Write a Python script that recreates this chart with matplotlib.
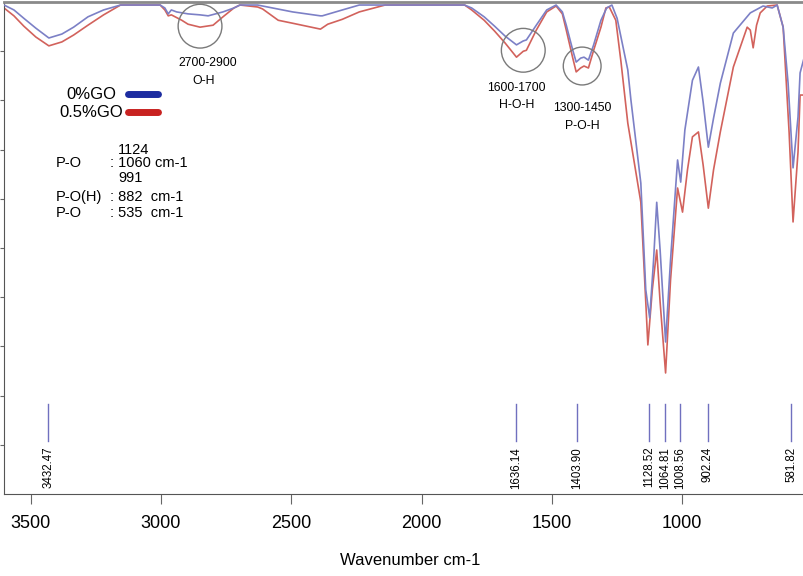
import matplotlib
matplotlib.use("Agg")
import matplotlib.pyplot as plt
from matplotlib.patches import Ellipse

plt.rcParams['font.family'] = ['Liberation Sans', 'DejaVu Sans']

# FTIR spectrum, 0% GO (blue)
wn_0 = [3602, 3564, 3526, 3480, 3430, 3380, 3335, 3280, 3220, 3155, 3003, 2985, 2972, 2960,
        2940, 2896, 2850, 2819, 2762, 2720, 2697, 2629, 2610, 2495, 2388, 2381, 2304, 2239,
        1835, 1808, 1760, 1720, 1680, 1636, 1610, 1598, 1560, 1520, 1484, 1460, 1445, 1420,
        1407, 1390, 1377, 1360, 1340, 1312, 1290, 1270, 1250, 1209, 1197, 1159, 1140, 1125,
        1110, 1098, 1085, 1064, 1045, 1018, 1006, 990, 961, 938, 920, 900, 880, 854, 804,
        739, 690, 655, 636, 613, 594, 575, 556, 548, 533]
t_0 = [99.4, 98.4, 96.7, 94.7, 92.7, 93.5, 94.9, 97.0, 98.4, 99.4, 99.4, 98.8, 97.6, 98.4,
       98.0, 97.6, 97.4, 97.2, 98.0, 98.8, 99.4, 99.4, 99.2, 98.0, 97.2, 97.2, 98.4, 99.4,
       99.4, 98.8, 97.0, 95.1, 93.1, 91.3, 92.1, 92.3, 95.3, 98.4, 99.4, 98.0, 95.3, 90.2,
       87.8, 88.6, 88.8, 88.2, 91.3, 96.3, 98.8, 99.4, 96.7, 86.2, 80.1, 63.2, 41.5, 35.8,
       47.6, 59.3, 49.6, 30.9, 47.6, 67.9, 63.4, 74.0, 84.1, 86.8, 79.7, 70.5, 76.4, 83.5, 93.7,
       97.8, 99.2, 98.8, 99.4, 94.9, 83.5, 66.3, 76.6, 85.6, 88.6]

# FTIR spectrum, 0.5% GO (red)
wn_05 = [3602, 3564, 3526, 3480, 3430, 3380, 3335, 3280, 3220, 3155, 3003, 2985, 2972, 2960,
         2920, 2896, 2850, 2800, 2762, 2720, 2697, 2629, 2610, 2550, 2495, 2388, 2360, 2304,
         2239, 2140, 1835, 1808, 1760, 1720, 1680, 1636, 1610, 1598, 1560, 1520, 1484, 1460,
         1445, 1420, 1407, 1390, 1377, 1360, 1340, 1312, 1293, 1280, 1255, 1235, 1209, 1159,
         1140, 1132, 1115, 1098, 1085, 1064, 1045, 1018, 999, 980, 961, 938, 920, 900, 880,
         854, 804, 751, 739, 728, 715, 701, 674, 636, 613, 590, 575, 556, 548, 533]
t_05 = [98.8, 97.2, 95.1, 92.9, 91.1, 91.9, 93.3, 95.3, 97.4, 99.4, 99.4, 98.4, 97.2, 97.4,
        96.3, 95.5, 94.9, 95.3, 97.0, 98.8, 99.4, 99.0, 98.6, 96.3, 95.7, 94.5, 95.5, 96.5,
        98.0, 99.4, 99.4, 98.4, 96.3, 94.1, 91.7, 88.8, 90.0, 90.2, 94.3, 98.0, 99.2, 97.6,
        94.3, 88.6, 85.8, 86.6, 87.0, 86.6, 90.2, 94.9, 98.8, 99.0, 96.3, 87.8, 75.4, 59.3,
        39.0, 30.3, 41.5, 49.6, 39.0, 24.6, 43.5, 62.2, 57.3, 65.9, 72.6, 73.6, 66.9, 58.1, 65.9,
        73.6, 86.8, 94.9, 94.3, 90.7, 95.3, 97.8, 99.2, 99.4, 94.9, 73.4, 55.3, 69.5, 81.1, 81.1]

peak_wn = [3432.47, 1636.14, 1403.90, 1128.52, 1064.81, 1008.56, 902.24, 581.82]
peak_labels = ['3432.47', '1636.14', '1403.90', '1128.52', '1064.81', '1008.56', '902.24', '581.82']

fig = plt.figure(figsize=(8.04, 5.76), dpi=100)
ax = fig.add_axes([0.005, 0.1424, 0.995, 0.854])

ax.plot(wn_0, t_0, color='#7c80c6', lw=1.2, zorder=3)
ax.plot(wn_05, t_05, color='#d2625c', lw=1.2, zorder=2)

# peak marker sticks + labels
for w, lab in zip(peak_wn, peak_labels):
    ax.plot([w, w], [10.8, 18.3], color='#7070bf', lw=1.0)
    ax.text(w, 9.6, lab, rotation=90, ha='center', va='top', fontsize=8.3)

# circled regions
for cx, cy, rw, rh in [(2850, 95.1, 168, 8.9), (1610, 90.2, 168, 8.9), (1384, 87.0, 145, 7.7)]:
    ax.add_patch(Ellipse((cx, cy), rw, rh, fill=False, ec='#7a7a7a', lw=1.0, zorder=4))

ax.text(2822, 87.6, '2700-2900', ha='center', va='center', fontsize=8.8)
ax.text(2835, 84.0, 'O-H', ha='center', va='center', fontsize=8.8)
ax.text(1636, 82.6, '1600-1700', ha='center', va='center', fontsize=8.8)
ax.text(1636, 79.1, 'H-O-H', ha='center', va='center', fontsize=8.8)
ax.text(1384, 78.5, '1300-1450', ha='center', va='center', fontsize=8.8)
ax.text(1384, 74.8, 'P-O-H', ha='center', va='center', fontsize=8.8)

# hand-made legend
ax.text(3268, 81.3, '0%GO', ha='center', va='center', fontsize=12)
ax.text(3268, 77.6, '0.5%GO', ha='center', va='center', fontsize=12)
ax.plot([3125, 3010], [81.3, 81.3], color='#1c2ca0', lw=5, solid_capstyle='round')
ax.plot([3125, 3010], [77.6, 77.6], color='#c82220', lw=5, solid_capstyle='round')

# band assignments
ax.text(3106, 70.0, '1124', ha='center', va='center', fontsize=10.5)
ax.text(3405, 67.3, 'P-O', ha='left', va='center', fontsize=10.5)
ax.text(3195, 67.3, ': 1060 cm-1', ha='left', va='center', fontsize=10.5)
ax.text(3117, 64.2, '991', ha='center', va='center', fontsize=10.5)
ax.text(3405, 60.4, 'P-O(H)', ha='left', va='center', fontsize=10.5)
ax.text(3195, 60.4, ': 882  cm-1', ha='left', va='center', fontsize=10.5)
ax.text(3405, 57.1, 'P-O', ha='left', va='center', fontsize=10.5)
ax.text(3195, 57.1, ': 535  cm-1', ha='left', va='center', fontsize=10.5)

ax.set_xlim(3602, 533)
ax.set_ylim(0, 100)
ax.set_xticks([3500, 3000, 2500, 2000, 1500, 1000])
ax.set_yticks(range(10, 100, 10))
ax.set_yticklabels([])
ax.tick_params(axis='x', direction='out', length=7, color='#666666', labelsize=13, pad=8)
ax.tick_params(axis='y', direction='out', length=3, color='#666666')
ax.set_xlabel('Wavenumber cm-1', fontsize=12, labelpad=14)
ax.xaxis.set_label_coords(0.508, -0.12)

ax.spines['right'].set_visible(False)
ax.spines['left'].set_color('#555555')
ax.spines['bottom'].set_color('#555555')
ax.spines['top'].set_color('#8a8a8a')
ax.spines['top'].set_linewidth(2)

fig.savefig('out.png', dpi=100)
